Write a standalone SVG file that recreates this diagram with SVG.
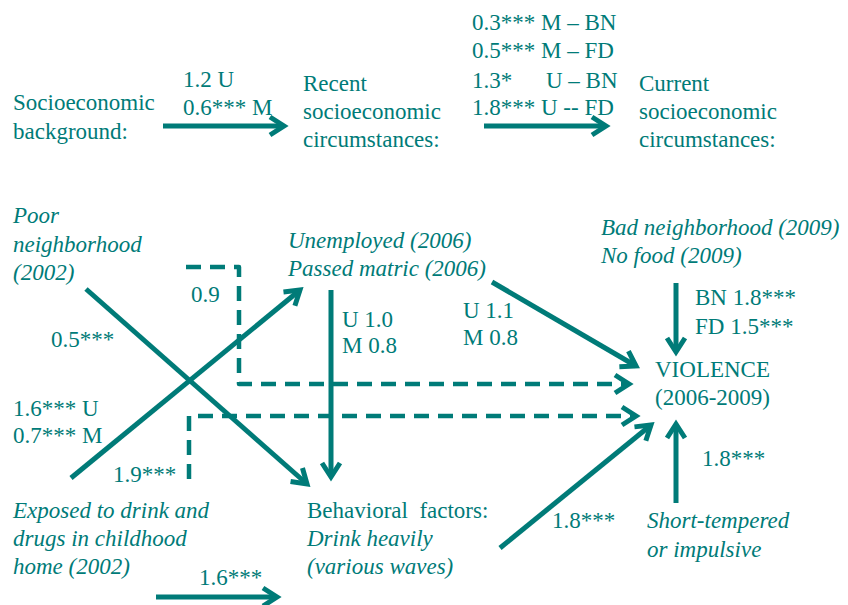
<svg xmlns="http://www.w3.org/2000/svg" width="848" height="605" viewBox="0 0 848 605" font-family="Liberation Serif, Times New Roman, DejaVu Serif, serif">
<defs>
<style>
text{font-size:23px;fill:#007b78}
.it{font-style:italic}
.ln{fill:none;stroke:#007b78;stroke-width:5}
.ds{fill:none;stroke:#007b78;stroke-width:4.5;stroke-dasharray:15 9;stroke-linejoin:round}
</style>
<marker id="ah" markerUnits="userSpaceOnUse" viewBox="-20 -14 24 28" markerWidth="24" markerHeight="28" refX="0" refY="0" orient="auto" overflow="visible">
<path d="M-14,-9 L0,0 L-14,9" fill="none" stroke="#007b78" stroke-width="5" stroke-dasharray="none"/>
</marker>
</defs>
<rect width="848" height="605" fill="#fff"/>
<g id="socio-background"><text x="13" y="110">Socioeconomic</text><text x="13" y="139">background:</text></g>
<g id="recent-socio"><text x="303" y="91">Recent</text><text x="303" y="119">socioeconomic</text><text x="303" y="147">circumstances:</text></g>
<g id="current-socio"><text x="639" y="91">Current</text><text x="639" y="119">socioeconomic</text><text x="639" y="147">circumstances:</text></g>
<g id="poor-neighborhood"><text class="it" x="13" y="223">Poor</text><text class="it" x="13" y="252">neighborhood</text><text class="it" x="13" y="280">(2002)</text></g>
<g id="unemployed"><text class="it" x="288" y="248">Unemployed (2006)</text><text class="it" x="288" y="276">Passed matric (2006)</text></g>
<g id="bad-neighborhood"><text class="it" x="601" y="235">Bad neighborhood (2009)</text><text class="it" x="601" y="263">No food (2009)</text></g>
<g id="violence"><text x="655" y="377">VIOLENCE</text><text x="655" y="405">(2006-2009)</text></g>
<g id="exposed"><text class="it" x="13" y="518">Exposed to drink and</text><text class="it" x="13" y="546">drugs in childhood</text><text class="it" x="13" y="574">home (2002)</text></g>
<g id="behavioral"><text x="307" y="518" style="white-space:pre">Behavioral  factors:</text><text class="it" x="307" y="546">Drink heavily</text><text class="it" x="307" y="574">(various waves)</text></g>
<g id="short-tempered"><text class="it" x="647" y="528">Short-tempered</text><text class="it" x="647" y="557">or impulsive</text></g>
<g id="connectors">
<path class="ln" d="M163,126 H284" marker-end="url(#ah)"/>
<path class="ln" d="M484,126 H606" marker-end="url(#ah)"/>
<path class="ln" d="M86,289 L307,484" marker-end="url(#ah)"/>
<path class="ln" d="M71,478 L300,290" marker-end="url(#ah)"/>
<path class="ln" d="M331,290 V477" marker-end="url(#ah)"/>
<path class="ln" d="M492,282 L636,366" marker-end="url(#ah)"/>
<path class="ln" d="M676,283 V352" marker-end="url(#ah)"/>
<path class="ln" d="M500,548 L651,425" marker-end="url(#ah)"/>
<path class="ln" d="M676,503 V424" marker-end="url(#ah)"/>
<path class="ln" d="M156,597 H277" marker-end="url(#ah)"/>
<path class="ds" d="M186,267 H239 V384 H629" marker-end="url(#ah)"/>
<path class="ds" d="M189,479 V416 H636" marker-end="url(#ah)"/>
</g>
<g id="labels">
<text x="183" y="87">1.2 U</text><text x="183" y="115">0.6*** M</text>
<text x="472" y="30">0.3*** M – BN</text>
<text x="472" y="58">0.5*** M – FD</text>
<text x="472" y="88">1.3*<tspan x="546">U – BN</tspan></text>
<text x="472" y="115">1.8*** U -- FD</text>
<text x="191" y="302">0.9</text>
<text x="51" y="347">0.5***</text>
<text x="342" y="327">U 1.0</text><text x="342" y="353">M 0.8</text>
<text x="463" y="318">U 1.1</text><text x="463" y="345">M 0.8</text>
<text x="695" y="305">BN 1.8***</text><text x="695" y="334">FD 1.5***</text>
<text x="13" y="416">1.6*** U</text><text x="13" y="443">0.7*** M</text>
<text x="113" y="482">1.9***</text>
<text x="199" y="585">1.6***</text>
<text x="552" y="528">1.8***</text>
<text x="702" y="466">1.8***</text>
</g>
</svg>
